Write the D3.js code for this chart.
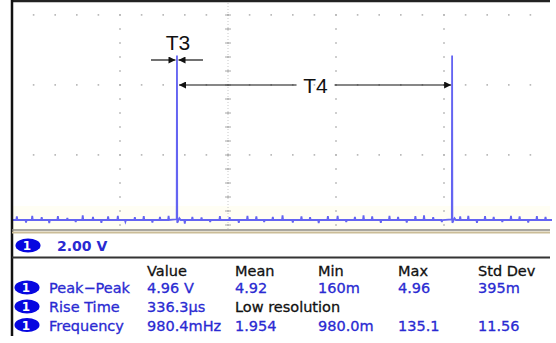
<!DOCTYPE html>
<html>
<head>
<meta charset="utf-8">
<script src="https://cdn.jsdelivr.net/npm/d3@7/dist/d3.min.js"></script>
<style>
  html, body { margin: 0; padding: 0; background: #fff; }
  svg { display: block; }
</style>
</head>
<body>
<svg id="chart"></svg>
<script>
// --- Data ---
const pulseTimes = [611, 1630];          // ms, rising edge of each pulse
const pulseHeight = 4.70;                // V
// small glitches on the baseline: [time ms, volts]
const glitches = [[18,0.10],[52,-0.07],[75,0.12],[110,0.08],[138,-0.09],[170,0.11],[205,0.06],[236,-0.06],[262,0.13],[300,0.09],
  [331,-0.08],[356,0.10],[392,0.12],[420,-0.05],[455,0.08],[488,0.11],[520,-0.07],[548,0.09],[580,0.12],[640,-0.10],
  [668,0.09],[702,0.07],[734,-0.06],[770,0.11],[806,0.08],[840,-0.08],[872,0.12],[905,0.10],[934,-0.06],[966,0.09],
  [1002,0.13],[1040,-0.07],[1072,0.10],[1104,0.08],[1136,-0.09],[1170,0.11],[1206,0.12],[1238,-0.06],[1270,0.09],[1302,0.13],
  [1334,0.10],[1366,-0.08],[1398,0.12],[1430,0.09],[1462,-0.07],[1494,0.11],[1526,0.13],[1560,0.08],[1592,-0.06],[1660,0.10],
  [1690,0.12],[1722,-0.08],[1752,0.11],[1784,0.09],[1816,-0.06],[1848,0.12],[1880,0.10],[1912,-0.07],[1944,0.11],[1976,0.09]];
const channelScale = "2.00 V";
const tableHeaders = ["Value", "Mean", "Min", "Max", "Std Dev"];
const measNames = ["Peak\u2212Peak", "Rise Time", "Frequency"];
const measValues = [
  ["4.96 V", "4.92", "160m", "4.96", "395m"],
  ["336.3\u00b5s", "Low resolution", "", "", ""],
  ["980.4mHz", "1.954", "980.0m", "135.1", "11.56"]
];

(function () {
  const W = 556, H = 343;
  const left = 12, right = 550, gratBottom = 229;
  const blue = "#2a2ad2", badge = "#0707e0", trace = "#6464f2";

  const svg = d3.select("#chart").attr("width", W).attr("height", H);

  // time: 400 ms/div, volts: 2 V/div
  const x = d3.scaleLinear().domain([0, 2000]).range([left, left + 540]);
  const y = d3.scaleLinear().domain([0, 2]).range([220, 150]);
  const gridV0 = -0.14;

  // faint tint under the trace
  svg.append("rect").attr("x", left).attr("y", 206).attr("width", right - left).attr("height", gratBottom - 206)
    .attr("fill", "#fffef4");

  // --- graticule ---
  const g = svg.append("g");
  const hLines = [0, 1, 2].map(k => y(gridV0 + 2 * (3 - k)));
  hLines.forEach(yy => {
    d3.range(left + 21.6, right, 21.6).forEach(xx => {
      g.append("rect").attr("x", xx - 0.8).attr("y", yy - 0.8).attr("width", 1.6).attr("height", 1.6).attr("fill", "#b4b4b4");
    });
  });
  const vTimes = [400, 800, 1200, 1600];
  vTimes.forEach(t => {
    const xx = x(t);
    d3.range(1, gratBottom, 14).forEach(yy => {
      g.append("rect").attr("x", xx - 0.8).attr("y", yy - 0.8).attr("width", 1.6).attr("height", 1.6).attr("fill", "#b4b4b4");
    });
  });
  // center vertical axis with minor ticks
  const cx = x(800);
  g.append("line").attr("x1", cx).attr("x2", cx).attr("y1", 0).attr("y2", gratBottom)
    .attr("stroke", "#c8c8c8").attr("stroke-width", 1).attr("stroke-dasharray", "1,2");
  d3.range(1, gratBottom, 14).forEach(yy => {
    g.append("line").attr("x1", cx - 3).attr("x2", cx + 3).attr("y1", yy).attr("y2", yy)
      .attr("stroke", "#a8a8a8").attr("stroke-width", 1);
  });

  // --- trace ---
  const pts = [[0, 0], [2000, 0]];
  glitches.forEach(([t, v]) => pts.push([t - 2, 0], [t, v], [t + 2, 0]));
  pulseTimes.forEach(t => {
    pts.push([t - 1, 0.02], [t, pulseHeight], [t + 1, -0.08], [t + 9, 0.05], [t + 14, 0]);
  });
  pts.sort((a, b) => a[0] - b[0]);
  const line = d3.line().x(d => x(d[0])).y(d => y(d[1]));
  svg.append("path").datum(pts).attr("d", line)
    .attr("fill", "none").attr("stroke", trace).attr("stroke-width", 1.8).attr("stroke-linejoin", "miter");

  // --- annotations ---
  const defs = svg.append("defs");
  defs.append("marker").attr("id", "ah").attr("viewBox", "0 0 10 10").attr("refX", 10).attr("refY", 5)
    .attr("markerWidth", 10).attr("markerHeight", 7).attr("markerUnits", "userSpaceOnUse").attr("orient", "auto")
    .append("path").attr("d", "M0,0L10,5L0,10Z").attr("fill", "#111");

  function arrow(x1, x2, yy) {
    svg.append("line").attr("x1", x1).attr("x2", x2).attr("y1", yy).attr("y2", yy)
      .attr("stroke", "#111").attr("stroke-width", 1.2).attr("marker-end", "url(#ah)");
  }
  const p1 = x(pulseTimes[0]), p2 = x(pulseTimes[1]);
  arrow(p1 - 26, p1 - 1.5, 60);
  arrow(p1 + 26, p1 + 1.5, 60);
  svg.append("text").attr("x", p1 + 1).attr("y", 50).attr("text-anchor", "middle")
    .style("font-family", "Liberation Sans, Arial, sans-serif").style("font-size", "21px").style("fill", "#111")
    .text("T3");
  const t4x = (p1 + p2) / 2 + 1;
  arrow(t4x - 19, p1 + 2, 85);
  arrow(t4x + 19, p2 - 1, 85);
  svg.append("text").attr("x", t4x).attr("y", 92.5).attr("text-anchor", "middle")
    .style("font-family", "Liberation Sans, Arial, sans-serif").style("font-size", "21px").style("fill", "#111")
    .text("T4");

  // --- frame ---
  svg.append("line").attr("x1", left).attr("x2", right).attr("y1", 1).attr("y2", 1).attr("stroke", "#222").attr("stroke-width", 2.5);
  svg.append("line").attr("x1", left).attr("x2", left).attr("y1", 0).attr("y2", 336).attr("stroke", "#111").attr("stroke-width", 2.5);
  svg.append("line").attr("x1", left).attr("x2", right).attr("y1", 230).attr("y2", 230).attr("stroke", "#8c8a80").attr("stroke-width", 1.5);
  svg.append("line").attr("x1", left).attr("x2", right).attr("y1", 232.5).attr("y2", 232.5).attr("stroke", "#cbbd98").attr("stroke-width", 2);
  svg.append("line").attr("x1", left).attr("x2", right).attr("y1", 257.5).attr("y2", 257.5).attr("stroke", "#333").attr("stroke-width", 2);

  function badgeAt(cxp, cyp) {
    svg.append("ellipse").attr("cx", cxp).attr("cy", cyp).attr("rx", 12.5).attr("ry", 7).attr("fill", badge);
    svg.append("text").attr("x", cxp - 1).attr("y", cyp + 4.5).attr("text-anchor", "middle")
      .style("font-family", "DejaVu Sans, sans-serif").style("font-size", "12px").style("font-weight", "bold")
      .style("fill", "#fff").text("1");
  }

  // status row
  badgeAt(28, 245.5);
  svg.append("text").attr("x", 57).attr("y", 251)
    .style("font-family", "DejaVu Sans, sans-serif").style("font-size", "14px").style("font-weight", "bold")
    .style("fill", blue).text(channelScale);

  // measurement table
  const colX = [147, 235, 318, 398, 478];
  const rowY = [293, 312, 330.5];
  const font = "DejaVu Sans, sans-serif";
  function cell(xp, yp, txt, col) {
    svg.append("text").attr("x", xp).attr("y", yp).style("font-family", font).style("font-size", "14.5px")
      .style("fill", col).style("stroke", col).style("stroke-width", 0.3).text(txt);
  }
  tableHeaders.forEach((h, i) => cell(colX[i], 275.5, h, "#111"));
  measNames.forEach((n, r) => {
    badgeAt(27, rowY[r] - 5.5);
    cell(49, rowY[r], n, blue);
    measValues[r].forEach((v, i) => {
      if (!v) return;
      cell(colX[i], rowY[r], v, v === "Low resolution" ? "#111" : blue);
    });
  });
})();
</script>
</body>
</html>
